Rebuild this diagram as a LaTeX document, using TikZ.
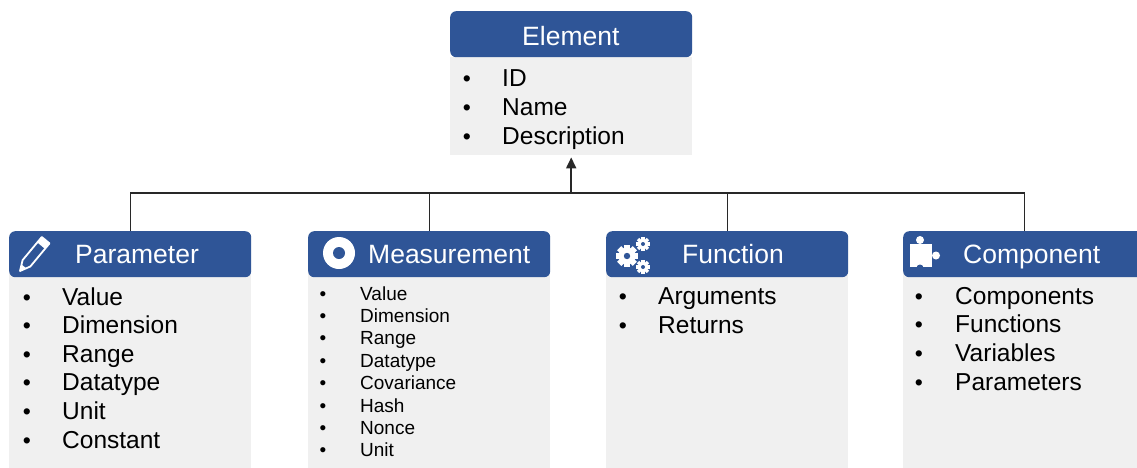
\documentclass[tikz,border=0pt]{standalone}
\usepackage{fontspec}
\newfontfamily\lsans{Liberation Sans}
\usetikzlibrary{arrows.meta,calc}
\definecolor{hdrblue}{RGB}{47,85,151}
\definecolor{bodygray}{RGB}{240,240,240}
\definecolor{linegray}{RGB}{40,40,40}
\tikzset{
  hdr/.style={fill=hdrblue,rounded corners=6pt,draw=none,inner sep=0pt,anchor=north west,minimum width=242pt,minimum height=46pt},
  bodybox/.style={fill=bodygray,draw=none,inner sep=0pt,anchor=north west,minimum width=242pt},
  ttl/.style={font=\fontsize{26.5}{30}\lsans,text=white,anchor=base west,inner sep=0pt},
  itm/.style={font=\fontsize{24.5}{28}\lsans,text=black,anchor=base west,inner sep=0pt},
  smitm/.style={font=\fontsize{19}{22}\lsans,text=black,anchor=base west,inner sep=0pt},
  bul/.style={font=\fontsize{23}{26}\lsans,text=black,anchor=base,inner sep=0pt},
  smbul/.style={font=\fontsize{19}{22}\lsans,text=black,anchor=base,inner sep=0pt},
  conn/.style={draw=linegray,line width=1.4pt},
}
\begin{document}
\begin{tikzpicture}[x=1pt,y=-1pt]
\useasboundingbox (0,0) rectangle (1137,467);
\fill[white] (0,0) rectangle (1137,467);

% ---------- Element ----------
\node[bodybox,minimum height=98pt] (elbody) at (450,57) {};
\node[hdr] (elhead) at (450,11) {};
\node[ttl] (eltitle) at (522,45) {Element};
\foreach \t [count=\i] in {ID,Name,Description}{
  \node[bul] (eb\i) at (467,{86+29*(\i-1)}) {•};
  \node[itm] (et\i) at (502,{86+29*(\i-1)}) {\t};
}

% ---------- Parameter ----------
\node[bodybox,minimum height=200pt] (pbody) at (9,271) {};
\node[hdr] (phead) at (9,231) {};
\node[ttl] (ptitle) at (75,263) {Parameter};
\foreach \t [count=\i] in {Value,Dimension,Range,Datatype,Unit,Constant}{
  \node[bul] (pb\i) at (27,{305+28.6*(\i-1)}) {•};
  \node[itm] (pt\i) at (62,{305+28.6*(\i-1)}) {\t};
}
% pencil icon
\fill[white] (41.8,237.0) -- (49.5,243.4) -- (44.95,248.8) -- (37.25,242.4) -- cycle;
\draw[white,line width=1.8pt,line join=round] (20,271) -- (22.6,260.1) -- (41.8,237.0) -- (49.5,243.4) -- (30.3,266.5) -- cycle;
\fill[white] (20,271) -- (21.6,264.5) -- (26.2,268.3) -- cycle;

% ---------- Measurement ----------
\node[bodybox,minimum height=200pt] (mbody) at (308,271) {};
\node[hdr] (mhead) at (308,231) {};
\node[ttl] (mtitle) at (368,263) {Measurement};
\foreach \t [count=\i] in {Value,Dimension,Range,Datatype,Covariance,Hash,Nonce,Unit}{
  \node[smbul] (mb\i) at (323,{300+22.4*(\i-1)}) {•};
  \node[smitm] (mt\i) at (360,{300+22.4*(\i-1)}) {\t};
}
% target icon
\fill[white] (339,253) circle (16);
\fill[hdrblue] (339,253) circle (6);

% ---------- Function ----------
\node[bodybox,minimum height=200pt] (fbody) at (606,271) {};
\node[hdr] (fhead) at (606,231) {};
\node[ttl] (ftitle) at (682,263) {Function};
\foreach \t [count=\i] in {Arguments,Returns}{
  \node[bul] (fb\i) at (623,{304+29*(\i-1)}) {•};
  \node[itm] (ft\i) at (658,{304+29*(\i-1)}) {\t};
}
% gears icon
\fill[white] (627,256) circle (8.5);
\foreach \a in {0,45,90,135}{
  \fill[white,rotate around={\a:(627,256)}] (624,245) rectangle (630,267);
}
\fill[hdrblue] (627,256) circle (3.2);
\foreach \cy in {244,267}{
  \fill[white] (643,\cy) circle (5);
  \foreach \a in {0,45,90,135}{
    \fill[white,rotate around={\a:(643,\cy)}] (641.3,\cy-7) rectangle (644.7,\cy+7);
  }
  \fill[hdrblue] (643,\cy) circle (2);
}

% ---------- Component ----------
\node[bodybox,minimum height=200pt] (cbody) at (903,271) {};
\node[hdr] (chead) at (903,231) {};
\node[ttl] (ctitle) at (963,263) {Component};
\foreach \t [count=\i] in {Components,Functions,Variables,Parameters}{
  \node[bul] (cb\i) at (919,{304+28.7*(\i-1)}) {•};
  \node[itm] (ct\i) at (955,{304+28.7*(\i-1)}) {\t};
}
% puzzle icon
\fill[white] (910,244) rectangle (932,267);
\fill[white] (920,240) circle (4);
\fill[white] (936,255.5) circle (4);
\fill[hdrblue] (920,268) circle (3.5);

% ---------- connectors ----------
\coordinate (j) at (elbody.south |- 0,193);
\draw[conn] (phead.north) -- (phead.north |- j) -- (chead.north |- j) -- (chead.north);
\draw[conn] (mhead.north) -- (mhead.north |- j);
\draw[conn] (fhead.north) -- (fhead.north |- j);
\draw[conn,line width=1.8pt,-{Triangle[length=11pt,width=10pt]}] (j) -- ([yshift=-2pt]elbody.south);
\end{tikzpicture}
\end{document}
